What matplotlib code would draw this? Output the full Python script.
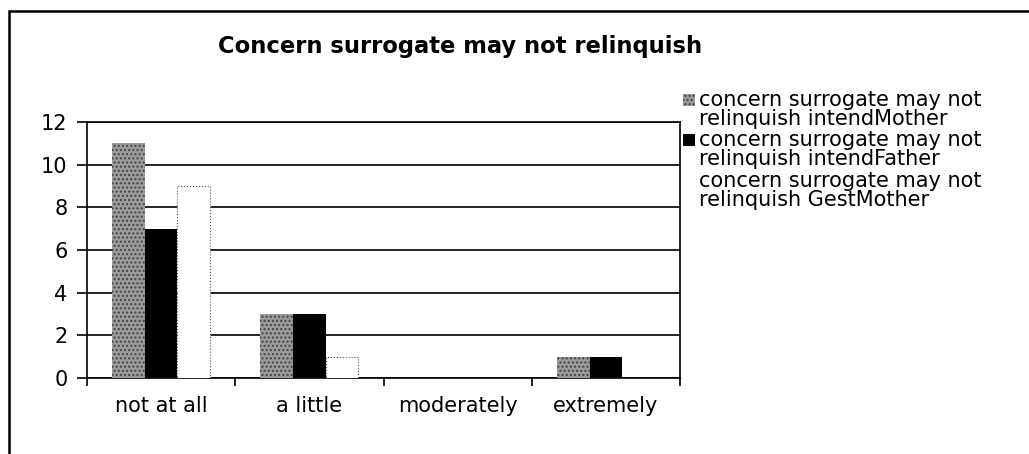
import numpy as np
import matplotlib
matplotlib.use('Agg')
import matplotlib.pyplot as plt
from matplotlib.patches import Rectangle

# Chart data
categories = ['not at all', 'a little', 'moderately', 'extremely']
intend_mother = [11, 3, 0, 1]
intend_father = [7, 3, 0, 1]
gest_mother = [9, 1, 0, 0]
labels = ['concern surrogate may not\nrelinquish intendMother',
          'concern surrogate may not\nrelinquish intendFather',
          'concern surrogate may not\nrelinquish GestMother']

plt.rcParams['font.family'] = ['DejaVu Sans']

W, H = 1029, 454
fig = plt.figure(figsize=(W / 100, H / 100), dpi=100)
ax = fig.add_axes([0.0845, 0.1674, 0.5765, 0.5639])

x = np.arange(len(categories))
w = 0.22

styles = [dict(facecolor='#9a9a9a', edgecolor='#444444', hatch='....', linewidth=0),
          dict(facecolor='black', edgecolor='black', linewidth=0),
          dict(facecolor='white', edgecolor='#555555', linewidth=0.8, linestyle=':')]

series = [intend_mother, intend_father, gest_mother]
for i, vals in enumerate(series):
    ax.bar(x + (i - 1) * w, vals, w, zorder=3, **styles[i])

ax.set_xlim(-0.5, 3.5)
ax.set_ylim(0, 12)
ax.set_yticks(range(0, 13, 2))
ax.yaxis.grid(True, color='black', linewidth=1.2, zorder=1)
ax.set_axisbelow(True)

ax.set_xticks(x)
ax.set_xticklabels(categories, fontsize=15)
ax.set_xticks(np.arange(-0.5, 4, 1), minor=True)
ax.tick_params(axis='x', which='major', length=0, pad=13)
ax.tick_params(axis='x', which='minor', length=6, width=1.2, direction='out')
ax.tick_params(axis='y', length=7, width=1.2, labelsize=15, pad=7)

for s in ax.spines.values():
    s.set_color('black')
    s.set_linewidth(1.2)

fig.text(460 / W, 1 - 46 / H, 'Concern surrogate may not relinquish',
         ha='center', va='center', fontsize=16.3, fontweight='bold')

# legend: marker square next to first line of each two-line label
for i, lab in enumerate(labels):
    ytop = [100, 140, 181][i]
    if i < 2:
        fig.add_artist(Rectangle((683 / W, 1 - (ytop + 6) / H), 12 / W, 12 / H,
                                 transform=fig.transFigure, **styles[i]))
    line1, line2 = lab.split('\n')
    fig.text(699 / W, 1 - ytop / H, line1, ha='left', va='center', fontsize=15)
    fig.text(699 / W, 1 - (ytop + 19) / H, line2, ha='left', va='center',
             fontsize=15)

# outer chart border (cut off at the right and bottom)
fig.add_artist(Rectangle((0.0087, -0.1), 1.2, 0.9758 + 0.1, fill=False,
                         transform=fig.transFigure, linewidth=1.8,
                         edgecolor='black'))

fig.savefig('out.png', dpi=100)
